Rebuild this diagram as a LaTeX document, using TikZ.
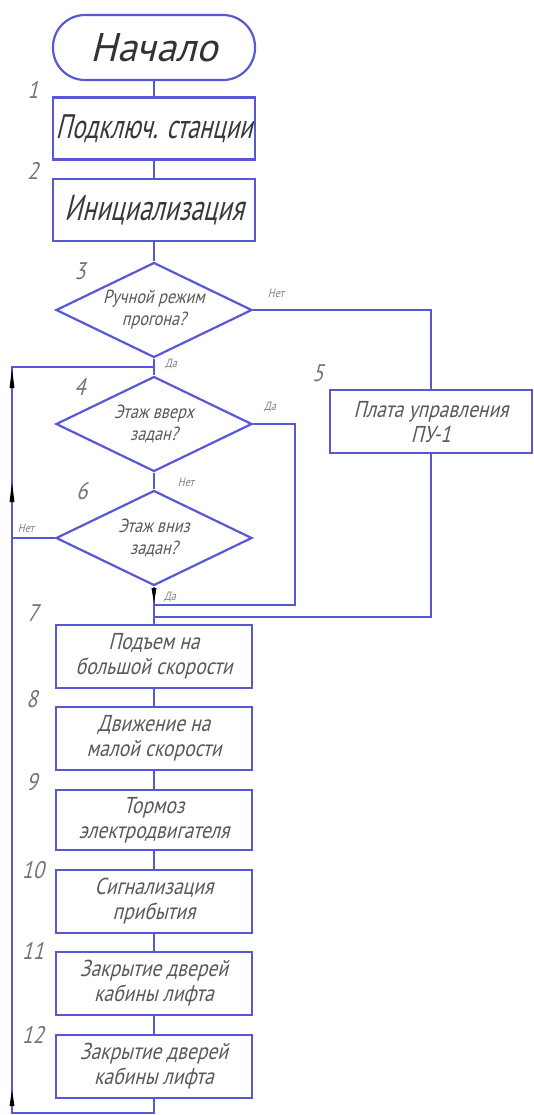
\documentclass[tikz,border=0pt]{standalone}
\usepackage{fontspec}
\newfontfamily\gost[FakeSlant=0.25,FakeStretch=0.85]{PT Sans}
\newfontfamily\gostn[FakeSlant=0.25,FakeStretch=0.72]{PT Sans}
\newfontfamily\gostw[FakeSlant=0.25]{PT Sans}
\usetikzlibrary{shapes.geometric}
\definecolor{ln}{RGB}{88,88,215}
\begin{document}
\begin{tikzpicture}[x=0.5pt,y=-0.5pt,
  every path/.style={line width=1.1pt},
  con/.style={draw=ln,line width=1.1pt},
  term/.style={draw=ln,line width=1.1pt,rounded corners=16pt,minimum width=101pt,minimum height=32.5pt,inner sep=0pt,
    font=\gostw\fontsize{20}{21}\selectfont,text=black!80},
  bigbox/.style={draw=ln,line width=1.1pt,minimum width=101pt,minimum height=31pt,inner sep=0pt,
    font=\gostn\fontsize{17}{18}\selectfont,text=black!78},
  proc/.style={draw=ln,line width=1.1pt,minimum width=98pt,minimum height=31.5pt,inner sep=0pt,align=center,
    font=\gost\fontsize{11.5}{12.5}\selectfont,text=black!65},
  dec/.style={diamond,draw=ln,line width=1.1pt,minimum width=98pt,minimum height=47.5pt,inner sep=0pt},
  dtext/.style={align=center,inner sep=0pt,font=\gost\fontsize{9.5}{11}\selectfont,text=black!65},
  num/.style={font=\gost\fontsize{12}{12}\selectfont,text=black!55},
  yn/.style={font=\gost\fontsize{6}{6}\selectfont,text=black!50},
  tip/.style={fill=black}]
\useasboundingbox[fill=white] (0,0) rectangle (534,1115);

% nodes
\node[term] (start) at (154,47.5) {Начало};
\node[bigbox] (b1) at (154,128.5) {Подключ. станции};
\node[bigbox,font=\gostn\fontsize{18}{19}\selectfont] (b2) at (154,210) {Инициализация};
\node[dec] (d3) at (154,310) {};
\node[dtext] (t3) at (d3) {Ручной режим\\прогона?};
\node[dec] (d4) at (154,424) {};
\node[dtext] (t4) at (d4) {Этаж вверх\\задан?};
\node[dec] (d6) at (154,538) {};
\node[dtext] (t6) at (d6) {Этаж вниз\\задан?};
\node[proc,minimum width=101pt] (b5) at (431,421.5) {Плата управления\\ПУ-1};
\node[proc] (b7) at (154,656.5) {Подъем на\\большой скорости};
\node[proc] (b8) at (154,738.5) {Движение на\\малой скорости};
\node[proc,minimum height=30pt] (b9) at (154,820) {Тормоз\\электродвигателя};
\node[proc] (b10) at (154,901.5) {Сигнализация\\прибытия};
\node[proc] (b11) at (154,983.5) {Закрытие дверей\\кабины лифта};
\node[proc] (b12) at (154,1066.5) {Закрытие дверей\\кабины лифта};

% helper coordinates
\coordinate (jtop) at (154,367);
\coordinate (lb) at (12,1113);
\coordinate (j4) at (154,605);
\coordinate (j5) at (154,617);
\coordinate (r4) at (295,605);

% connectors
\draw[con] (start) -- (b1);
\draw[con] (b1) -- (b2);
\draw[con] (b2) -- (d3);
\draw[con] (d3.east) -| (b5.north);
\draw[con] (d3.south) -- (d4.north);
\draw[con] (d4.south) -- (d6.north);
\draw[con] (d4.east) -| (r4) -- (j4);
\draw[con] (b5.south) |- (j5);
\draw[con] (d6.south) -- (b7.north);
\draw[con] (d6.west) -- (d6.west -| lb);
\draw[con] (b7) -- (b8);
\draw[con] (b8) -- (b9);
\draw[con] (b9) -- (b10);
\draw[con] (b10) -- (b11);
\draw[con] (b11) -- (b12);
\draw[con] (b12.south) |- (lb) |- (jtop);

% arrow marks
\fill[tip] (9.5,388) -- (14.5,388) -- (12,368) -- cycle;
\fill[tip] (9.5,502) -- (14.5,502) -- (12,482) -- cycle;
\fill[tip] (9.5,1106) -- (14.5,1106) -- (12,1090) -- cycle;
\fill[tip] (151.5,588) -- (156.5,588) -- (154,603) -- cycle;

% labels
\node[yn] (n3) at (276,293) {Нет};
\node[yn] (y3) at (171,364) {Да};
\node[yn] (y4) at (270,407) {Да};
\node[yn] (n4) at (186,482) {Нет};
\node[yn] (n6) at (26,528) {Нет};
\node[yn] (y6) at (170,597) {Да};

\node[num] (l1) at (33,90) {1};
\node[num] (l2) at (33,171) {2};
\node[num] (l3) at (80,271) {3};
\node[num] (l4) at (80,387) {4};
\node[num] (l5) at (318,373) {5};
\node[num] (l6) at (82,491) {6};
\node[num] (l7) at (33,613) {7};
\node[num] (l8) at (32,699) {8};
\node[num] (l9) at (32,782) {9};
\node[num] (l10) at (33,870) {10};
\node[num] (l11) at (33,951) {11};
\node[num] (l12) at (33,1035) {12};
\end{tikzpicture}
\end{document}
